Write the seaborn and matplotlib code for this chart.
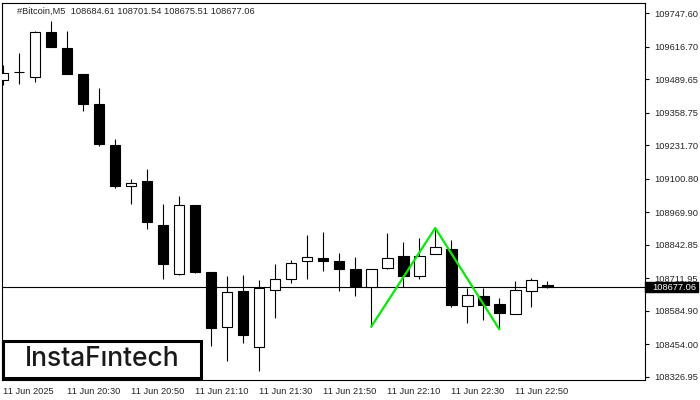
import numpy as np
import matplotlib
matplotlib.use("Agg")
import matplotlib.pyplot as plt
from matplotlib.patches import Rectangle
import seaborn as sns

# candle data (M5 bars, 20:10 -> 23:00)
opens = [109486.9, 109520.1, 109499.8, 109675.0, 109610.8, 109510.3, 109393.1, 109232.8, 109071.4,
         109092.1, 108918.9, 108727.4, 108998.3, 108736.4, 108520.2, 108662.1, 108442.0, 108664.8,
         108710.2, 108778.2, 108789.9, 108779.4, 108748.1, 108676.5, 108750.8, 108798.9, 108719.5,
         108805.5, 108826.3, 108602.3, 108642.5, 108610.1, 108571.0, 108660.9, 108684.61]
highs = [109545.5, 109591.3, 109678.4, 109717.5, 109678.4, 109511.0, 109455.6, 109256.2, 109099.9,
         109139.0, 109002.2, 109033.4, 108999.0, 108737.0, 108720.7, 108724.6, 108705.1, 108767.6,
         108783.3, 108881.0, 108892.7, 108810.6, 108795.0, 108748.0, 108887.6, 108852.4, 108868.1,
         108908.3, 108860.3, 108673.8, 108673.8, 108633.5, 108700.0, 108712.9, 108701.54]
lows = [109467.3, 109472.4, 109480.2, 109614.0, 109510.0, 109366.9, 109228.9, 109065.9, 109004.1,
        108905.6, 108707.8, 108723.5, 108733.6, 108448.3, 108389.6, 108460.0, 108350.5, 108557.7,
        108694.5, 108710.2, 108741.4, 108663.3, 108643.7, 108522.5, 108750.0, 108678.9, 108710.2,
        108805.0, 108600.7, 108538.2, 108548.7, 108512.4, 108571.0, 108600.7, 108675.51]
closes = [109513.1, 109518.2, 109673.3, 109615.9, 109511.5, 109394.2, 109237.9, 109073.7, 109083.1,
          108933.0, 108768.8, 108997.1, 108737.5, 108518.6, 108657.0, 108491.3, 108672.6, 108707.8,
          108770.4, 108793.8, 108780.5, 108749.3, 108681.6, 108746.9, 108789.9, 108721.9, 108797.7,
          108832.9, 108608.5, 108645.3, 108608.5, 108577.3, 108664.8, 108703.9, 108677.06]

# double top pattern
pattern_idx = [23, 27, 31]
pattern_price = [108522.5, 108908.3, 108512.4]

last_price = 108677.06

xtick_idx = [0, 4, 8, 12, 16, 20, 24, 28, 32]
xtick_labels = ["11 Jun 2025", "11 Jun 20:30", "11 Jun 20:50", "11 Jun 21:10", "11 Jun 21:30",
                "11 Jun 21:50", "11 Jun 22:10", "11 Jun 22:30", "11 Jun 22:50"]
ytick_vals = [109747.60, 109616.70, 109489.65, 109358.75, 109231.70, 109100.80,
              108969.90, 108842.85, 108711.95, 108584.90, 108454.00, 108326.95]

sns.set_style("white")
plt.rcParams['font.family'] = ['Liberation Sans', 'DejaVu Sans']
fs = 6.7

fig = plt.figure(figsize=(7, 4), dpi=100)
ax = fig.add_axes([2/700, 20/400, 643/700, 377/400])

x = np.arange(len(opens))
o = np.array(opens); c = np.array(closes)
bull = c >= o

ax.vlines(x, lows, highs, color='black', lw=0.8, zorder=2)
ax.bar(x, np.maximum(np.abs(c - o), 1.0), bottom=np.minimum(o, c), width=0.66,
       color=np.where(bull, 'white', 'black'), edgecolor='black', linewidth=0.8, zorder=3)

ax.axhline(last_price, color='black', lw=0.8, zorder=1)

sns.lineplot(x=pattern_idx, y=pattern_price, color='#00ee00', lw=1.6, ax=ax, zorder=4)

ax.set_xlim(-1/16, 40.1)
ax.set_ylim(108314.2, 109787.9)

ax.yaxis.tick_right()
ax.set_yticks(ytick_vals)
ax.set_yticklabels([f"{v:.2f}" for v in ytick_vals], fontsize=fs)
ax.set_xticks(xtick_idx)
ax.set_xticklabels(xtick_labels, fontsize=fs, ha='left')
ax.tick_params(axis='both', direction='out', length=3, width=0.8, color='black', pad=2)
ax.tick_params(axis='y', pad=4)
for s in ax.spines.values():
    s.set_color('black'); s.set_linewidth(0.8)

# last price tag
ax.add_patch(Rectangle((1.0, last_price - 20), 53/643, 40, transform=ax.get_yaxis_transform(),
                       clip_on=False, color='black', zorder=5))
ax.text(1.0 + 7/643, last_price, f"{last_price:.2f}", transform=ax.get_yaxis_transform(),
        color='white', fontsize=fs, va='center', ha='left', zorder=6)

fig.text(17/700, 1 - 11.7/400, "#Bitcoin,M5  108684.61 108701.54 108675.51 108677.06",
         fontsize=fs, va='center', ha='left')

# logo
fig.add_artist(Rectangle((3/700, 1 - 378/400), 198/700, 37/400, transform=fig.transFigure,
                         facecolor='white', edgecolor='black', lw=2.2, zorder=10))
fig.text(102/700, 1 - 359.5/400, "InstaF\u0131ntech", fontsize=19, family=['Inter', 'DejaVu Sans'],
         fontweight='medium', color='#1a1a1a', ha='center', va='center', zorder=11)

fig.savefig("out.png", dpi=100)
